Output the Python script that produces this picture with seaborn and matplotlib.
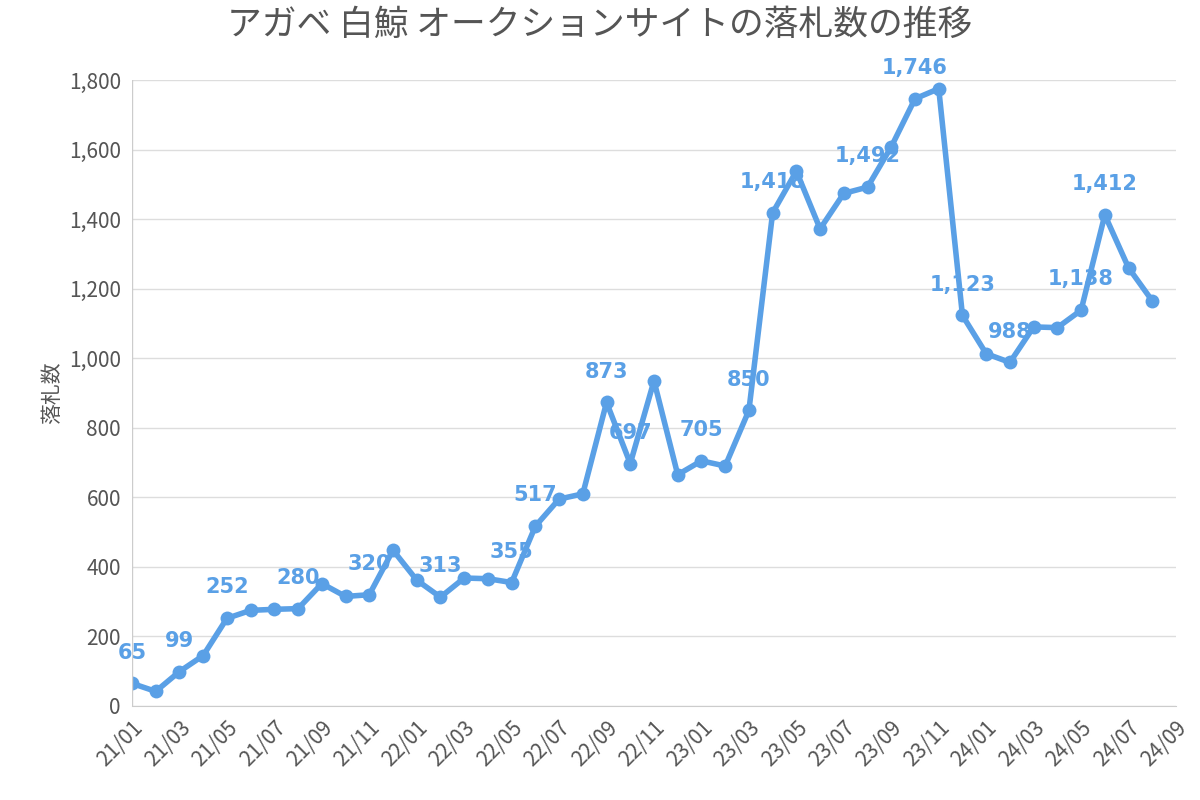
import matplotlib
matplotlib.use("Agg")
import matplotlib.pyplot as plt
import seaborn as sns
import pandas as pd

months = [f"{y:02d}/{m:02d}" for y in range(21, 25) for m in range(1, 13)][:44]
values = [65, 42, 99, 145, 252, 275, 278, 280, 352, 315, 320, 448,
          362, 313, 368, 366, 355, 517, 595, 610, 873, 697, 935, 665,
          705, 690, 850, 1418, 1538, 1372, 1474, 1492, 1608, 1746, 1775, 1123,
          1013, 988, 1090, 1088, 1138, 1412, 1260, 1165]
labeled = [0, 2, 4, 7, 10, 13, 16, 17, 20, 21, 24, 26, 27, 31, 33, 35, 37, 40, 41]
ticks = [f"{y:02d}/{m:02d}" for y in range(21, 25) for m in range(1, 13, 2)][:23]

plt.rcParams["font.family"] = "Noto Sans CJK JP"
df = pd.DataFrame({"i": range(len(values)), "v": values})
color = "#5aa0e6"
fig, ax = plt.subplots(figsize=(12, 8), dpi=100)
fig.subplots_adjust(left=0.11, right=0.98, top=0.90, bottom=0.1175)
sns.lineplot(data=df, x="i", y="v", ax=ax, color=color, lw=4, marker="o",
             markersize=10, markeredgewidth=0)
for i in labeled:
    ax.text(i, values[i] + 60, f"{values[i]:,}", color=color, fontsize=15,
            fontweight="bold", ha="center", va="bottom", family="DejaVu Sans")
ax.set_xlim(0, 44)
ax.set_ylim(0, 1800)
ax.set_yticks(range(0, 1801, 200))
ax.set_yticklabels([f"{v:,}" for v in range(0, 1801, 200)], fontsize=15, color="#555555")
ax.set_xticks(range(0, 45, 2))
ax.set_xticklabels(ticks, rotation=45, ha="right", rotation_mode="anchor", fontsize=15, color="#555555")
ax.grid(axis="y", color="#dddddd", lw=1)
ax.set_axisbelow(True)
for s in ["top", "right", "left"]:
    ax.spines[s].set_visible(False)
ax.spines["bottom"].set_color("#cccccc")
ax.axvline(0, color="#cccccc", lw=1)
ax.tick_params(length=0, pad=8)
ax.set_xlabel("")
ax.set_ylabel("落札数", fontsize=15, color="#555555")
fig.suptitle("アガベ 白鯨 オークションサイトの落札数の推移", fontsize=25, color="#555555", x=0.5, y=0.99)
fig.savefig("out.png")
